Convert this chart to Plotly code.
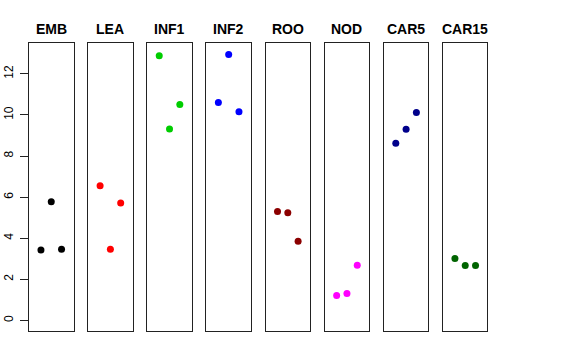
import plotly.graph_objects as go
from plotly.subplots import make_subplots

categories = ["EMB", "LEA", "INF1", "INF2", "ROO", "NOD", "CAR5", "CAR15"]
replicates = [1, 2, 3]
values = {
    "EMB": [3.43, 5.77, 3.46],
    "LEA": [6.55, 3.46, 5.71],
    "INF1": [12.89, 9.32, 10.51],
    "INF2": [10.61, 12.95, 10.16],
    "ROO": [5.30, 5.24, 3.85],
    "NOD": [1.21, 1.31, 2.68],
    "CAR5": [8.62, 9.30, 10.12],
    "CAR15": [3.01, 2.67, 2.67],
}
colors = ["#000000", "#FF0000", "#00CD00", "#0000FF", "#8B0000", "#FF00FF", "#00008B", "#006400"]
y_ticks = [0, 2, 4, 6, 8, 10, 12]

W, H = 576, 360
fig = make_subplots(rows=1, cols=len(categories))

left0, pitch, pw = 29.0, 59.14, 44.5
ytop_px, ybot_px = 42.7, 331.0
ydom = [(H - ybot_px) / H, (H - ytop_px) / H]

for i, (cat, col) in enumerate(zip(categories, colors)):
    fig.add_trace(
        go.Scatter(
            x=replicates, y=values[cat], mode="markers",
            marker=dict(color=col, size=7, line=dict(width=0)),
            showlegend=False, hoverinfo="y",
        ),
        row=1, col=i + 1,
    )
    l = left0 + i * pitch
    xd = [l / W, (l + pw) / W]
    xname = "xaxis" if i == 0 else f"xaxis{i + 1}"
    yname = "yaxis" if i == 0 else f"yaxis{i + 1}"
    fig.layout[xname].update(
        domain=xd, range=[-0.16, 4.16], showgrid=False, zeroline=False,
        showticklabels=False, ticks="", showline=True, mirror=True,
        linecolor="#222222", linewidth=1, automargin=False,
    )
    yopts = dict(
        domain=ydom, range=[-0.52, 13.52], showgrid=False, zeroline=False,
        showline=True, mirror=True, linecolor="#222222", linewidth=1,
        automargin=False,
    )
    if i == 0:
        yopts.update(
            tickvals=y_ticks, ticktext=[str(v) for v in y_ticks], ticks="outside",
            ticklen=8, tickcolor="#222222", tickangle=-90, ticklabelstandoff=2,
            tickfont=dict(family="Liberation Sans, Arial", size=12, color="black"),
        )
    else:
        yopts.update(showticklabels=False, ticks="")
    fig.layout[yname].update(**yopts)
    fig.add_annotation(
        x=(l + pw / 2) / W, y=(H - 29) / H, xref="paper", yref="paper",
        text=f"<b>{cat}</b>", showarrow=False,
        font=dict(family="Liberation Sans, Arial", size=14, color="black"),
        xanchor="center", yanchor="middle",
    )

fig.update_layout(
    width=W, height=H, margin=dict(l=0, r=0, t=0, b=0, autoexpand=False),
    paper_bgcolor="white", plot_bgcolor="white",
)
fig.write_html(
    "out.html",
    config={"displayModeBar": False},
    post_script="document.body.style.margin='0';",
)
